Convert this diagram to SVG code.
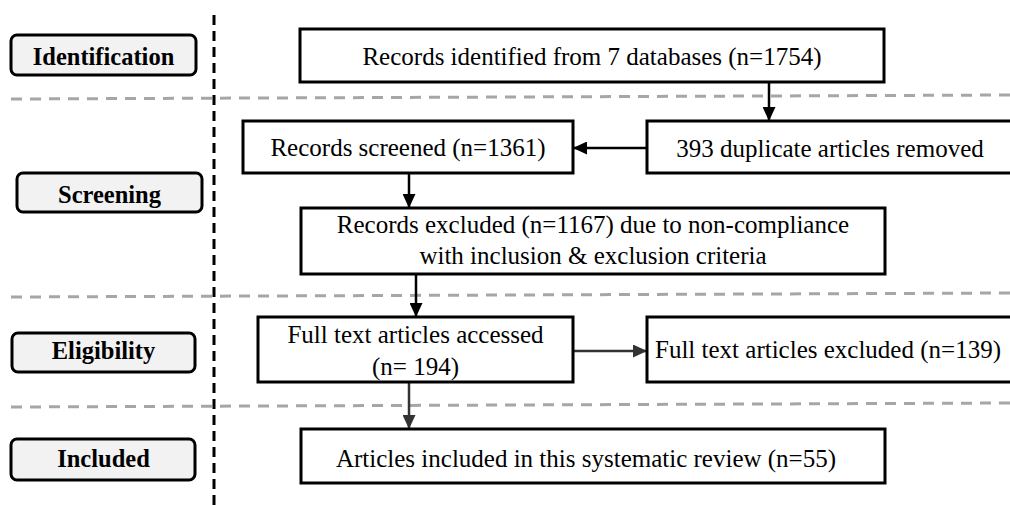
<svg xmlns="http://www.w3.org/2000/svg" width="1010" height="505" viewBox="0 0 1010 505">
<style>
.box{fill:#fff;stroke:#000;stroke-width:3}
.lbl{fill:#f2f2f2;stroke:#000;stroke-width:3}
text{font-family:'Liberation Serif','Times New Roman',Times,serif;font-size:25px;fill:#000;text-anchor:middle}
.b{font-weight:bold;font-size:24.5px}
.sep{stroke:#a6a6a6;stroke-width:3;stroke-dasharray:11 8;fill:none}
.conn{stroke:#000;stroke-width:2.5;fill:none;marker-end:url(#ah)}
.conn2{stroke:#333;stroke-width:2.5;fill:none;marker-end:url(#ah2)}
</style>
<defs>
<marker id="ah" markerUnits="userSpaceOnUse" markerWidth="15" markerHeight="13" refX="14" refY="6.5" orient="auto"><path d="M0,0 L14,6.5 L0,13 Z" fill="#000"/></marker>
<marker id="ah2" markerUnits="userSpaceOnUse" markerWidth="15" markerHeight="13" refX="14" refY="6.5" orient="auto"><path d="M0,0 L14,6.5 L0,13 Z" fill="#333"/></marker>
</defs>
<rect width="1010" height="505" fill="#fff"/>
<g id="separators">
<line class="sep" x1="11" y1="99" x2="1010" y2="95"/>
<line class="sep" x1="11" y1="297" x2="1010" y2="293"/>
<line class="sep" x1="11" y1="407" x2="1010" y2="403"/>
<line x1="214" y1="15" x2="214" y2="505" stroke="#000" stroke-width="3" stroke-dasharray="10 6"/>
</g>
<g id="label-identification"><rect class="lbl" x="11" y="35" width="185" height="40" rx="6"/><text class="b" x="103.5" y="65">Identification</text></g>
<g id="label-screening"><rect class="lbl" x="17" y="173" width="185" height="39" rx="6"/><text class="b" x="109.5" y="203">Screening</text></g>
<g id="label-eligibility"><rect class="lbl" x="12" y="333" width="183" height="39" rx="6"/><text class="b" x="103.5" y="359">Eligibility</text></g>
<g id="label-included"><rect class="lbl" x="11" y="439" width="184" height="41" rx="6"/><text class="b" x="103.5" y="467">Included</text></g>
<g id="connectors">
<line class="conn" x1="769" y1="82" x2="769" y2="121"/>
<line class="conn" x1="647" y1="148" x2="573" y2="148"/>
<line class="conn" x1="409" y1="173" x2="409" y2="208"/>
<line class="conn" x1="416" y1="274" x2="416" y2="317"/>
<line class="conn2" x1="573" y1="351" x2="647" y2="351"/>
<line class="conn2" x1="409" y1="382" x2="409" y2="429"/>
</g>
<g id="n-identified"><rect class="box" x="300" y="29" width="584" height="53"/><text x="592" y="65">Records identified from 7 databases (n=1754)</text></g>
<g id="n-duplicates"><rect class="box" x="647" y="121" width="370" height="52"/><text x="830" y="157">393 duplicate articles removed</text></g>
<g id="n-screened"><rect class="box" x="243" y="121" width="330" height="52"/><text x="408" y="156">Records screened (n=1361)</text></g>
<g id="n-excluded"><rect class="box" x="301" y="208" width="584" height="66"/><text x="593" y="233">Records excluded (n=1167) due to non-compliance</text><text x="593" y="264">with inclusion &amp; exclusion criteria</text></g>
<g id="n-fulltext"><rect class="box" x="258" y="317" width="315" height="65"/><text x="415.5" y="343">Full text articles accessed</text><text x="415.5" y="375">(n= 194)</text></g>
<g id="n-fulltext-excluded"><rect class="box" x="647" y="317" width="370" height="65"/><text x="828" y="358">Full text articles excluded (n=139)</text></g>
<g id="n-included"><rect class="box" x="301" y="429" width="584" height="54"/><text x="586" y="467">Articles included in this systematic review (n=55)</text></g>
</svg>
